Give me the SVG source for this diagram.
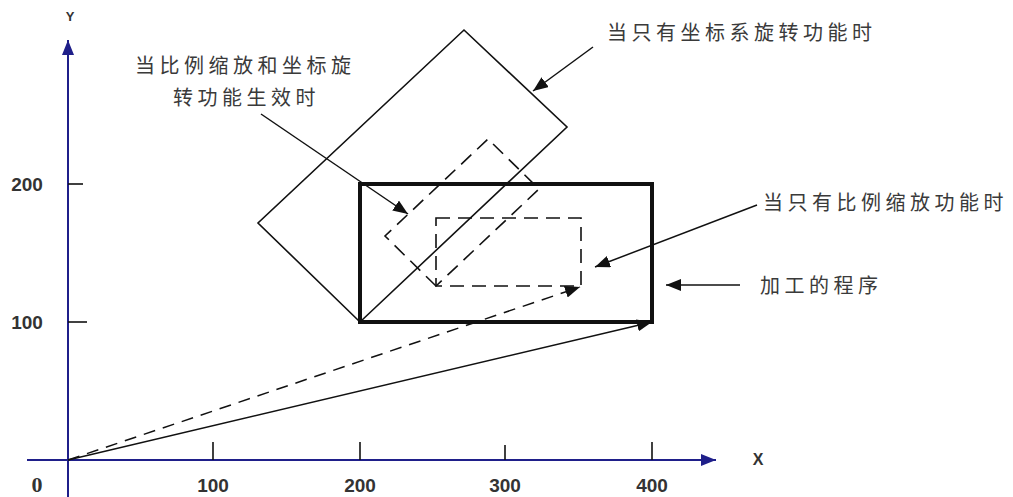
<svg xmlns="http://www.w3.org/2000/svg" width="1013" height="497" viewBox="0 0 1013 497">
<style>
.axis{stroke:#1f1f8a;stroke-width:2;fill:none}
.tick{stroke:#111;stroke-width:1.6}
.num{font-family:"Liberation Sans",Arial,sans-serif;font-weight:bold;font-size:19px;fill:#333;text-anchor:middle}
.lbl{font-family:"Noto Sans CJK SC","Noto Sans",sans-serif;font-size:20px;fill:#3a3a3a;letter-spacing:4.5px}
.thin{stroke:#111;stroke-width:1.6;fill:none}
.dash{stroke:#111;stroke-width:1.6;fill:none;stroke-dasharray:14 8}
.ptr{stroke:#111;stroke-width:1.5;fill:none;marker-end:url(#ah)}
</style>
<defs>
<marker id="ah" markerUnits="userSpaceOnUse" markerWidth="16" markerHeight="12" refX="15" refY="6" orient="auto"><path d="M0,0 L15,6 L0,12 Z" fill="#111"/></marker>
<marker id="ax" markerUnits="userSpaceOnUse" markerWidth="16" markerHeight="12" refX="15" refY="6" orient="auto"><path d="M0,0 L15,6 L0,12 Z" fill="#1f1f8a"/></marker>
</defs>
<rect width="1013" height="497" fill="#fff"/>
<g id="axes">
<line class="axis" x1="27" y1="460" x2="716" y2="460" marker-end="url(#ax)"/>
<line class="axis" x1="68" y1="497" x2="68" y2="40" marker-end="url(#ax)"/>
<line class="tick" x1="213" y1="442" x2="213" y2="460"/>
<line class="tick" x1="360" y1="442" x2="360" y2="460"/>
<line class="tick" x1="505" y1="445" x2="505" y2="460"/>
<line class="tick" x1="652" y1="442" x2="652" y2="460"/>
<line class="tick" x1="68" y1="184" x2="83" y2="184"/>
<line class="tick" x1="68" y1="322" x2="87" y2="322"/>
<text class="num" x="70" y="21" style="font-size:13px">Y</text>
<text class="num" x="758" y="465" style="font-size:16px">X</text>
<text x="37" y="492" style="font-family:'Liberation Serif',serif;font-weight:bold;font-size:22px;fill:#333" text-anchor="middle">0</text>
<text class="num" x="213" y="492">100</text>
<text class="num" x="360" y="492">200</text>
<text class="num" x="505" y="492">300</text>
<text class="num" x="652" y="492">400</text>
<text class="num" x="27" y="191">200</text>
<text class="num" x="27" y="329">100</text>
</g>
<g id="program">
<rect x="360" y="184" width="292" height="138" fill="none" stroke="#111" stroke-width="4"/>
</g>
<g id="rotated">
<polygon class="thin" points="360,322 258,223 464,30 567,127"/>
</g>
<g id="scaled-rotated">
<polygon class="dash" points="436,286 385,236 488,139 539,189"/>
</g>
<g id="scaled">
<rect class="dash" x="436" y="218" width="145" height="68"/>
</g>
<g id="labels">
<text class="lbl" x="607" y="40">当只有坐标系旋转功能时</text>
<text class="lbl" x="135" y="73">当比例缩放和坐标旋</text>
<text class="lbl" x="173" y="105">转功能生效时</text>
<text class="lbl" x="763" y="210">当只有比例缩放功能时</text>
<text class="lbl" x="760" y="293">加工的程序</text>
</g>
<g id="connectors">
<line class="ptr" x1="593" y1="47" x2="533" y2="91"/>
<line class="ptr" x1="261" y1="114" x2="408" y2="214"/>
<line class="ptr" x1="757" y1="205" x2="595" y2="267"/>
<line class="ptr" x1="740" y1="285" x2="666" y2="285"/>
<line class="ptr" x1="68" y1="460" x2="652" y2="322"/>
<line class="ptr" x1="68" y1="460" x2="580" y2="287" stroke-dasharray="12 8"/>
</g>
</svg>
